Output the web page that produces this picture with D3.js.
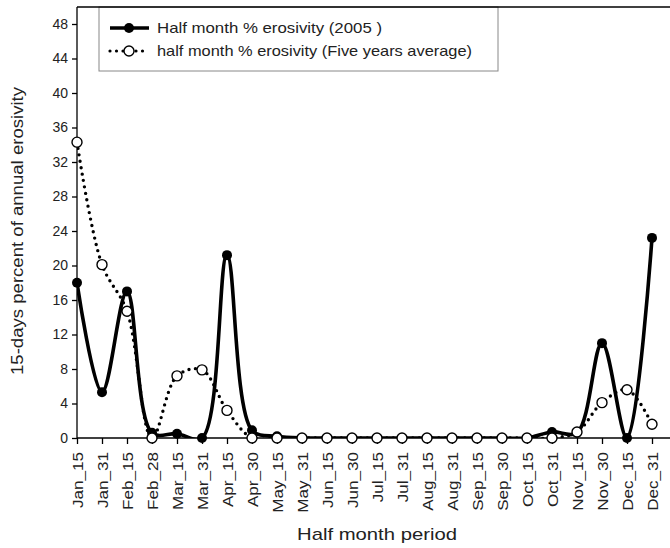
<!DOCTYPE html>
<html>
<head>
<meta charset="utf-8">
<script src="https://cdn.jsdelivr.net/npm/d3@7/dist/d3.min.js"></script>
<style>
  html, body { margin: 0; padding: 0; background: #fff; }
  svg { display: block; font-family: "Liberation Sans", Arial, sans-serif; }
</style>
</head>
<body>
<svg id="chart" width="670" height="548"></svg>
<script>
// Half-month periods
const periods = ["Jan_15","Jan_31","Feb_15","Feb_28","Mar_15","Mar_31","Apr_15","Apr_30",
  "May_15","May_31","Jun_15","Jun_30","Jul_15","Jul_31","Aug_15","Aug_31",
  "Sep_15","Sep_30","Oct_15","Oct_31","Nov_15","Nov_30","Dec_15","Dec_31"];

// Half month % erosivity, 2005
const erosivity2005 = [18, 5.3, 17, 0.6, 0.5, 0, 21.2, 0.9,
  0.2, 0, 0, 0, 0, 0, 0, 0,
  0, 0, 0, 0.7, 0.6, 11, 0, 23.2];

// Half month % erosivity, five-year average
const erosivityAvg = [34.3, 20.1, 14.7, 0, 7.2, 7.9, 3.2, 0,
  0, 0, 0, 0, 0, 0, 0, 0,
  0, 0, 0, 0, 0.7, 4.1, 5.6, 1.6];

const yTicks = [0, 4, 8, 12, 16, 20, 24, 28, 32, 36, 40, 44, 48];

const seriesNames = ["Half month % erosivity (2005 )",
  "half month % erosivity (Five years average)"];

(function draw() {
  const svg = d3.select("#chart");
  const pl = 77, pr = 670, pt = 7, pb = 438;
  const font = "'Liberation Sans', Arial, sans-serif";

  const x = d3.scalePoint().domain(periods).range([77, 652]);
  const y = d3.scaleLinear().domain([0, 48]).range([pb, 24]);

  // clip for curves
  svg.append("defs").append("clipPath").attr("id", "plotClip")
    .append("rect").attr("x", pl).attr("y", pt).attr("width", pr - pl).attr("height", pb - pt);

  // Y axis
  const yAxis = svg.append("g").attr("transform", `translate(${pl},0)`)
    .call(d3.axisLeft(y).tickValues(yTicks).tickSize(5).tickPadding(4).tickFormat(d3.format("d")));
  yAxis.select(".domain").attr("d", `M0,${pt}V${pb}`).attr("stroke-width", 1.3);
  yAxis.selectAll(".tick line").attr("stroke-width", 1.3);
  yAxis.selectAll("text").attr("font-size", 14).attr("fill", "#222").style("font-family", font);

  // X axis, labels rotated to read upwards
  const xAxis = svg.append("g").attr("transform", `translate(0,${pb})`)
    .call(d3.axisBottom(x).tickSize(6).tickPadding(4));
  xAxis.select(".domain").attr("d", `M${pl},0H${pr}`).attr("stroke-width", 1.3);
  xAxis.selectAll(".tick line").attr("stroke-width", 1.3);
  xAxis.selectAll("text")
    .attr("font-size", 14).attr("fill", "#222")
    .style("font-family", font)
    .attr("text-anchor", "end")
    .attr("dy", "0.35em")
    .attr("x", 0).attr("y", 0)
    .attr("transform", "translate(1,14) rotate(-90) scale(1.22,1)");

  // Axis titles
  svg.append("text").attr("x", 377).attr("y", 540).attr("text-anchor", "middle")
    .attr("font-size", 17).attr("fill", "#222")
    .attr("textLength", 160).attr("lengthAdjust", "spacingAndGlyphs")
    .text("Half month period");
  svg.append("text").attr("transform", "translate(23,231) rotate(-90)").attr("text-anchor", "middle")
    .attr("font-size", 16.5).attr("fill", "#222")
    .attr("textLength", 288).attr("lengthAdjust", "spacingAndGlyphs")
    .text("15-days percent of annual erosivity");

  const curve = d3.curveCatmullRom.alpha(0.5);
  const line = d3.line().x((d, i) => x(periods[i])).y(d => y(d)).curve(curve);

  const plot = svg.append("g").attr("clip-path", "url(#plotClip)");

  // five-year average: dotted line
  plot.append("path").datum(erosivityAvg).attr("d", line)
    .attr("fill", "none").attr("stroke", "#000").attr("stroke-width", 3.4)
    .attr("stroke-linecap", "round").attr("stroke-dasharray", "0,6.5");

  // 2005: solid line
  plot.append("path").datum(erosivity2005).attr("d", line)
    .attr("fill", "none").attr("stroke", "#000").attr("stroke-width", 3.6)
    .attr("stroke-linejoin", "round");

  // markers
  svg.append("g").selectAll("circle").data(erosivity2005).join("circle")
    .attr("cx", (d, i) => x(periods[i])).attr("cy", d => y(d)).attr("r", 5)
    .attr("fill", "#000");
  svg.append("g").selectAll("circle").data(erosivityAvg).join("circle")
    .attr("cx", (d, i) => x(periods[i])).attr("cy", d => y(d)).attr("r", 5)
    .attr("fill", "#fff").attr("stroke", "#000").attr("stroke-width", 1.4);

  // Legend
  const lg = svg.append("g");
  lg.append("rect").attr("x", 99).attr("y", pt).attr("width", 399).attr("height", 64)
    .attr("fill", "#fff").attr("stroke", "#888").attr("stroke-width", 1);
  // plot frame (top edge)
  lg.append("line").attr("x1", pl).attr("x2", pr).attr("y1", pt).attr("y2", pt)
    .attr("stroke", "#000").attr("stroke-width", 1.3);

  const rows = [28, 51];
  const textLen = [225, 315];
  lg.append("line").attr("x1", 110).attr("x2", 149).attr("y1", rows[0]).attr("y2", rows[0])
    .attr("stroke", "#000").attr("stroke-width", 3.6);
  lg.append("circle").attr("cx", 129).attr("cy", rows[0]).attr("r", 5).attr("fill", "#000");
  lg.append("line").attr("x1", 110).attr("x2", 149).attr("y1", rows[1]).attr("y2", rows[1])
    .attr("stroke", "#000").attr("stroke-width", 3.2).attr("stroke-linecap", "round")
    .attr("stroke-dasharray", "0,6.5");
  lg.append("circle").attr("cx", 129).attr("cy", rows[1]).attr("r", 5)
    .attr("fill", "#fff").attr("stroke", "#000").attr("stroke-width", 1.4);
  seriesNames.forEach((name, i) => {
    lg.append("text").attr("x", 157).attr("y", rows[i]).attr("dy", "0.35em")
      .attr("font-size", 15).attr("fill", "#222")
      .attr("textLength", textLen[i]).attr("lengthAdjust", "spacingAndGlyphs")
      .text(name);
  });
})();
</script>
</body>
</html>
